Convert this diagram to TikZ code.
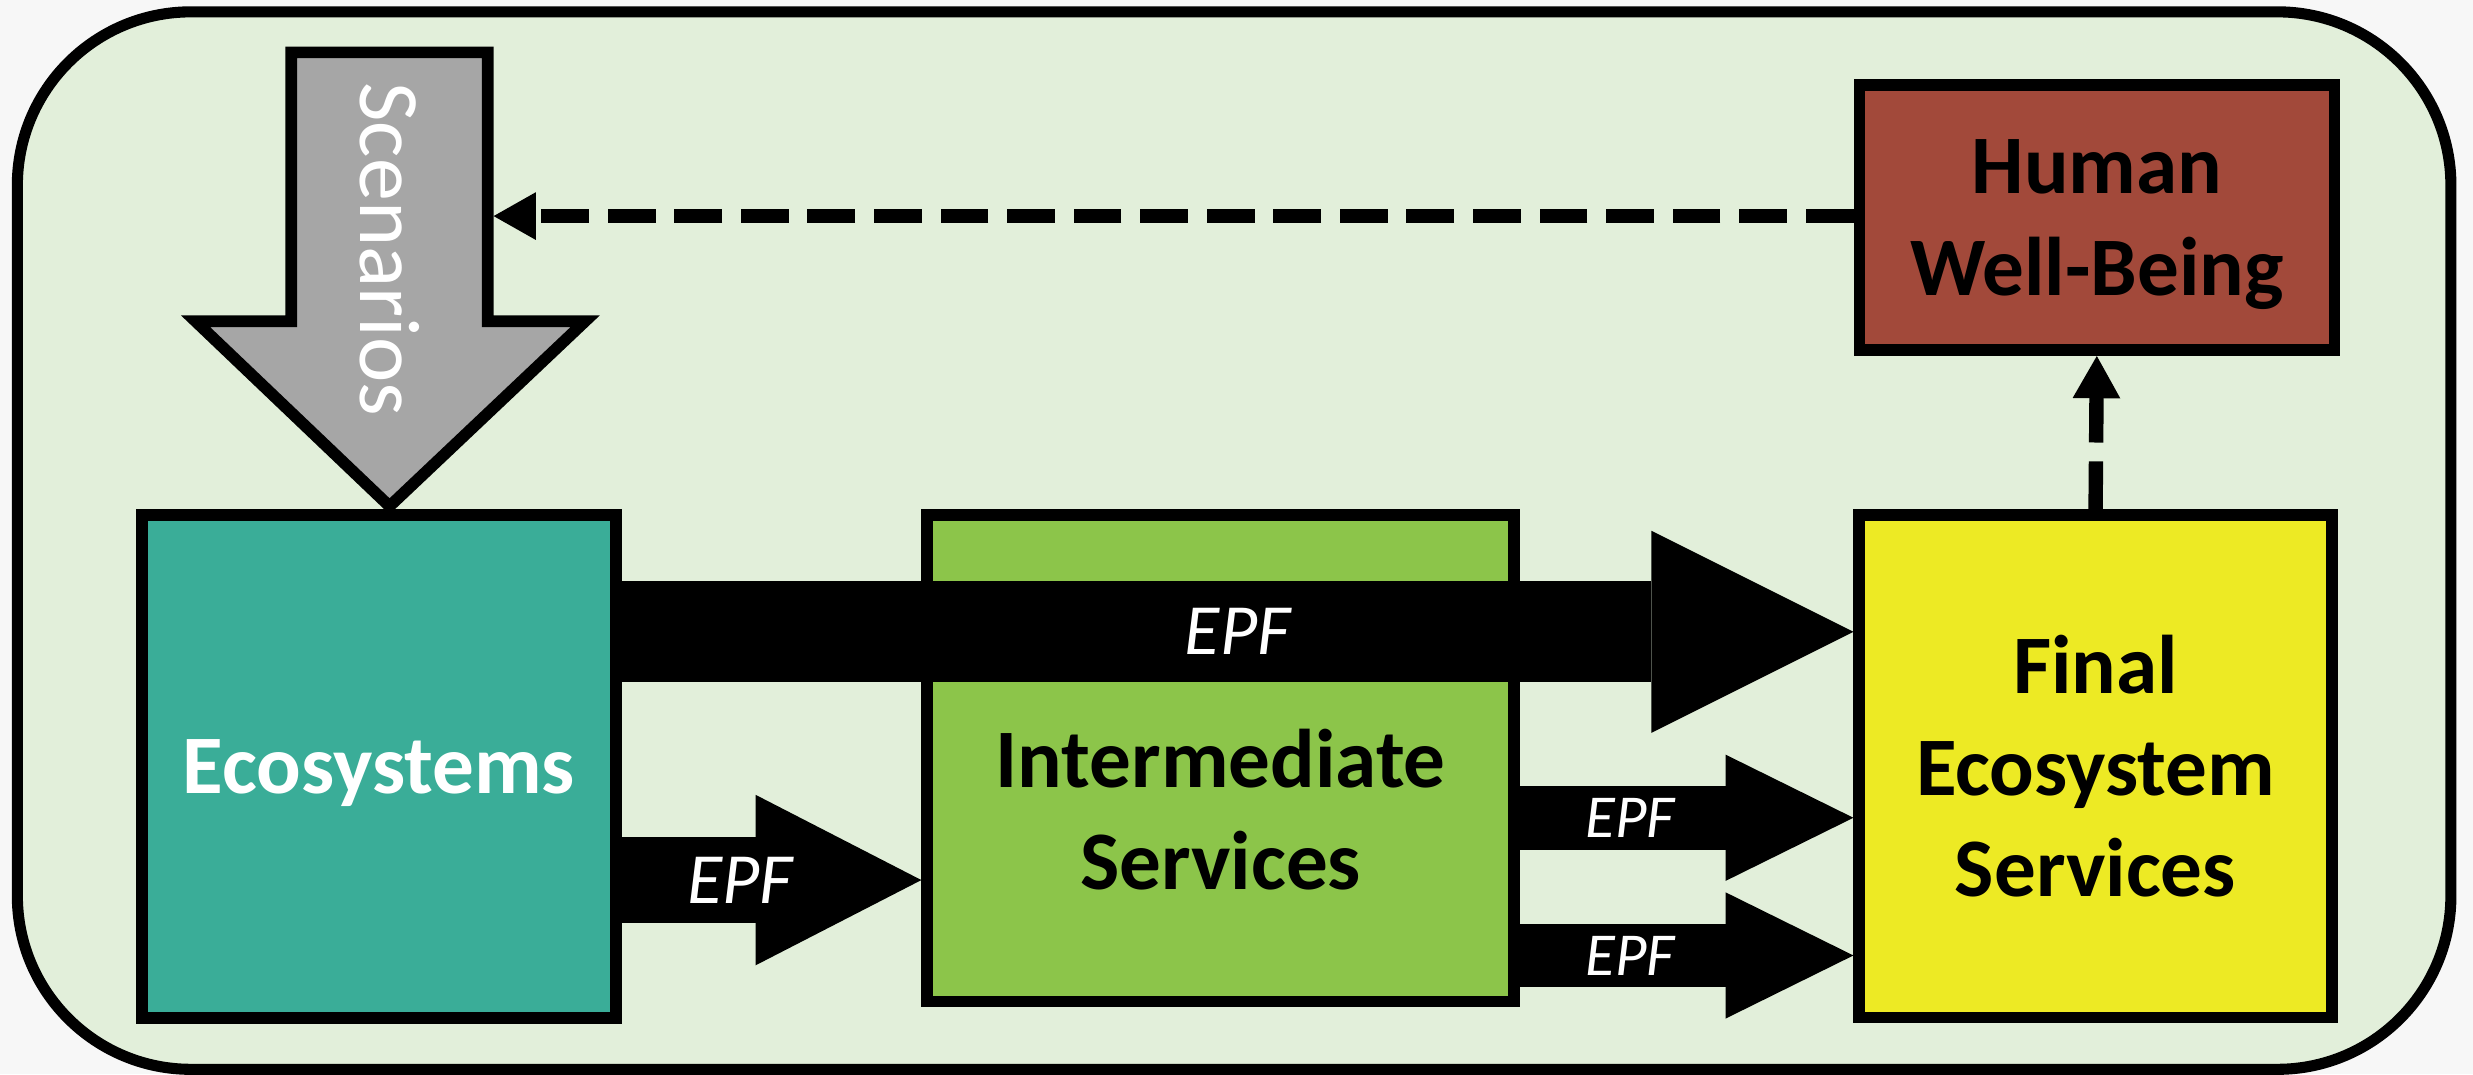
\documentclass[tikz,border=0pt]{standalone}
\usepackage{fontspec}
\setmainfont{Carlito}
\usetikzlibrary{arrows.meta,calc}

\definecolor{aussen}{HTML}{F7F7F7}
\definecolor{rahmengruen}{HTML}{E2EFDA}
\definecolor{ecoteal}{HTML}{3AAD98}
\definecolor{intgruen}{HTML}{8CC54A}
\definecolor{finalgelb}{HTML}{EDEA24}
\definecolor{hwbrot}{HTML}{A2493A}
\definecolor{szengrau}{HTML}{A6A6A6}

\tikzset{
  kasten/.style={draw,line width=2.1pt,inner sep=0pt,align=center,text depth=0pt,
    font=\fontsize{15}{18.3}\selectfont\bfseries},
  epfpfeil/.style n args={3}{line width=#1,
    -{Triangle[length=#2,width=#3,line width=0pt]}},
  epflabel/.style={text=white,inner sep=0pt,font=\fontsize{13}{15}\selectfont\itshape},
  gestrichelt/.style={line width=2.6pt,dash pattern=on 8.6pt off 3.4pt,
    -{Triangle[length=7.6pt,width=8.6pt,line width=0pt]}}
}

\begin{document}
\begin{tikzpicture}[x=0.01cm,y=-0.01cm]
		% Hintergrund
		\fill[aussen] (0,0) rectangle (1568,681);
		\useasboundingbox (0,0) rectangle (1568,681);
		\draw[line width=2pt,fill=rahmengruen,rounded corners=1.1cm] (11,7.5) rectangle (1554,678);
		
		% Kaesten
		\node[kasten,fill=ecoteal,text=white,minimum width=3.005cm,minimum height=3.19cm] (eco) at (240.2,486) {Ecosystems};
		\node[kasten,fill=intgruen,minimum width=3.72cm,minimum height=3.085cm] (inter) at (774,480.7) {};
		\node[kasten,fill=finalgelb,minimum width=2.995cm,minimum height=3.185cm] (final) at (1328.7,485.8) {Final\\Ecosystem\\Services};
		\node[kasten,fill=hwbrot,minimum width=3.01cm,minimum height=1.68cm] (hwb) at (1329.5,138) {Human\\Well-Being};
		\node[kasten,draw=none] (interT) at (774,513) {Intermediate\\Services};
		
		% Hoehen der EPF-Pfeile
		\coordinate (hA) at (0,400.6);
		\coordinate (hB) at (0,558);
		\coordinate (hC) at (0,518.5);
		\coordinate (hD) at (0,605.8);
		
		% EPF-Pfeile
		\draw[epfpfeil={0.64cm}{1.28cm}{1.28cm}] (eco.east |- hA) -- node[epflabel,pos=0.5] (epfA) {EPF} (final.west |- hA);
		\draw[epfpfeil={0.545cm}{1.05cm}{1.08cm}] (eco.east |- hB) -- node[epflabel,pos=0.395] (epfB) {EPF} (inter.west |- hB);
		\draw[epfpfeil={0.405cm}{0.81cm}{0.80cm}] (inter.east |- hC) -- node[epflabel,pos=0.33,font=\fontsize{11}{13}\selectfont\itshape] (epfC) {EPF} (final.west |- hC);
		\draw[epfpfeil={0.405cm}{0.81cm}{0.80cm}] (inter.east |- hD) -- node[epflabel,pos=0.33,font=\fontsize{11}{13}\selectfont\itshape] (epfD) {EPF} (final.west |- hD);
		
		% Szenarien-Pfeil
		\draw[line width=2.1pt,fill=szengrau,line join=miter] (184.7,33.2) -- (309.3,33.2) -- (309.3,203.7) -- (371,203.7) -- (247,321) -- (124,203.7) -- (184.7,203.7) -- cycle;
		\node[rotate=-90,text=white,font=\fontsize{15.5}{18}\selectfont] (scen) at (247,158) {Scenarios};
		\coordinate (scenR) at (313,137);
		
		% Rueckkopplung
		\draw[gestrichelt] (final.north) -- (hwb.south);
		\draw[gestrichelt] (hwb.west |- scenR) -- (scenR);
	\end{tikzpicture}
\end{document}
